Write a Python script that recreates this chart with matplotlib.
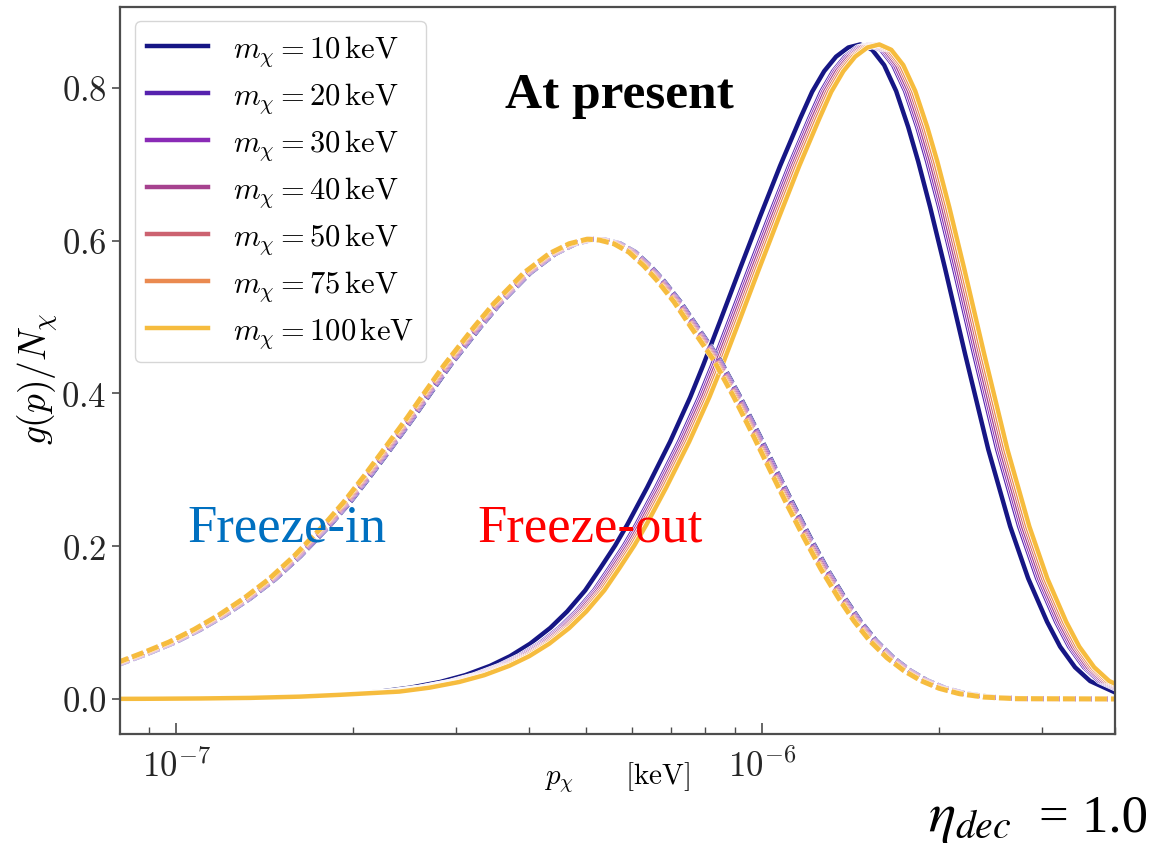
import numpy as np
import matplotlib as mpl
mpl.use('Agg')
import matplotlib.pyplot as plt
import matplotlib.patheffects as pe
from matplotlib.ticker import FormatStrFormatter

plt.rcParams.update({
    'font.family': 'serif',
    'font.serif': ['cmr10'],
    'mathtext.fontset': 'cm',
    'axes.formatter.use_mathtext': True,
    'axes.unicode_minus': False,
})

masses = [10, 20, 30, 40, 50, 75, 100]
colors = ['#161685', '#5622ae', '#8a2bb6', '#a6428f', '#cc6270', '#ea8a50', '#f6bc3e']

# momenta in units of 1e-7 keV
# solid curves (at present): shared g/N levels, p position for each mass
g_solid = [0.0001, 0.0002, 0.0003, 0.0007, 0.00145, 0.0031, 0.0055,
           0.0097, 0.0148, 0.0223, 0.0312, 0.0434, 0.0561, 0.0724, 0.0929, 0.1146, 0.1422,
           0.171, 0.201, 0.228, 0.277, 0.337, 0.395, 0.437, 0.495, 0.564, 0.632,
           0.698, 0.760, 0.795, 0.822, 0.841, 0.853, 0.857, 0.850, 0.830, 0.796,
           0.749, 0.704, 0.644, 0.563, 0.451, 0.327, 0.226, 0.158, 0.101, 0.0685,
           0.0415, 0.0235, 0.0085, 0.003]
p_tail = [0.70, 0.802, 0.903, 1.099, 1.338, 1.628, 1.905]
p_solid_10 = p_tail + [2.229, 2.508, 2.822, 3.113, 3.434, 3.715, 4.019, 4.347, 4.648, 4.989,
                       5.291, 5.613, 5.884, 6.365, 6.966, 7.537, 7.932, 8.480, 9.173, 9.922,
                       10.73, 11.61, 12.17, 12.76, 13.37, 14.03, 14.70, 15.41, 16.15, 16.93,
                       17.75, 18.46, 19.35, 20.53, 22.21, 24.31, 26.50, 28.44, 30.64, 32.25,
                       34.20, 36.28, 40.04, 44.16]
p_solid_20 = p_tail + [2.309, 2.598, 2.924, 3.225, 3.558, 3.849, 4.164, 4.503, 4.815, 5.169,
                       5.481, 5.815, 6.096, 6.594, 7.217, 7.808, 8.218, 8.785, 9.503, 10.28,
                       11.12, 12.03, 12.61, 13.22, 13.85, 14.54, 15.23, 15.96, 16.73, 17.54,
                       18.39, 19.12, 20.05, 21.27, 23.01, 25.18, 27.45, 29.46, 31.74, 33.41,
                       35.43, 37.59, 41.48, 45.75]
p_solid_30 = p_tail + [2.327, 2.618, 2.946, 3.250, 3.585, 3.878, 4.196, 4.538, 4.853, 5.208,
                       5.524, 5.860, 6.143, 6.645, 7.273, 7.869, 8.281, 8.853, 9.577, 10.36,
                       11.20, 12.12, 12.71, 13.32, 13.96, 14.65, 15.35, 16.09, 16.86, 17.67,
                       18.53, 19.27, 20.20, 21.43, 23.19, 25.38, 27.67, 29.69, 31.99, 33.67,
                       35.70, 37.88, 41.80, 46.10]
p_solid_40 = p_tail + [2.345, 2.638, 2.969, 3.275, 3.613, 3.908, 4.228, 4.573, 4.890, 5.248,
                       5.566, 5.905, 6.190, 6.696, 7.328, 7.929, 8.344, 8.921, 9.650, 10.44,
                       11.29, 12.21, 12.80, 13.42, 14.07, 14.76, 15.46, 16.21, 16.99, 17.81,
                       18.67, 19.42, 20.36, 21.60, 23.36, 25.57, 27.88, 29.92, 32.23, 33.93,
                       35.98, 38.17, 42.12, 46.46]
p_solid_50 = p_tail + [2.365, 2.661, 2.994, 3.303, 3.643, 3.942, 4.264, 4.612, 4.932, 5.293,
                       5.614, 5.955, 6.243, 6.753, 7.391, 7.997, 8.416, 8.997, 9.733, 10.53,
                       11.38, 12.32, 12.91, 13.54, 14.19, 14.89, 15.60, 16.35, 17.14, 17.96,
                       18.83, 19.59, 20.53, 21.78, 23.56, 25.79, 28.12, 30.17, 32.51, 34.22,
                       36.29, 38.49, 42.48, 46.85]
p_solid_75 = p_tail + [2.383, 2.681, 3.017, 3.328, 3.671, 3.971, 4.296, 4.647, 4.969, 5.333,
                       5.656, 6.000, 6.290, 6.804, 7.447, 8.057, 8.479, 9.065, 9.806, 10.61,
                       11.47, 12.41, 13.01, 13.64, 14.29, 15.00, 15.71, 16.47, 17.26, 18.10,
                       18.97, 19.73, 20.69, 21.95, 23.74, 25.99, 28.33, 30.40, 32.75, 34.48,
                       36.56, 38.78, 42.80, 47.21]
p_solid_100 = p_tail + [2.403, 2.704, 3.042, 3.356, 3.702, 4.005, 4.332, 4.686, 5.011, 5.378,
                        5.704, 6.051, 6.343, 6.861, 7.509, 8.125, 8.551, 9.141, 9.888, 10.70,
                        11.57, 12.52, 13.12, 13.76, 14.41, 15.12, 15.85, 16.61, 17.41, 18.25,
                        19.13, 19.90, 20.86, 22.13, 23.94, 26.21, 28.57, 30.66, 33.03, 34.77,
                        36.87, 39.11, 43.16, 47.60]

# dashed curves: shared g/N levels, p position for each mass
g_dash = [0.038,
          0.046, 0.061, 0.0745, 0.091, 0.110, 0.132, 0.157, 0.187, 0.228, 0.258,
          0.292, 0.327, 0.368, 0.400, 0.437, 0.487, 0.518, 0.558, 0.583, 0.596,
          0.602, 0.601, 0.596, 0.585, 0.567, 0.548, 0.52, 0.487, 0.443, 0.395,
          0.343, 0.300, 0.255, 0.211, 0.170, 0.131, 0.102, 0.076, 0.054, 0.037,
          0.024, 0.014, 0.007, 0.0025, 0.0005,
          0.0]
p_dash_10 = [0.750,
             0.802, 0.903, 0.996, 1.099, 1.212, 1.338, 1.475, 1.628, 1.832, 1.981,
             2.144, 2.319, 2.538, 2.713, 2.935, 3.303, 3.572, 4.019, 4.435, 4.797,
             5.147, 5.396, 5.724, 6.072, 6.440, 6.780, 7.246, 7.747, 8.480, 9.173,
             9.922, 10.56, 11.29, 12.08, 12.91, 13.86, 14.70, 15.65, 16.73, 17.89,
             19.12, 20.53, 22.21, 24.50, 27.56,
             42.0]
p_dash_20 = [0.750,
             0.799, 0.899, 0.992, 1.095, 1.207, 1.333, 1.469, 1.622, 1.825, 1.973,
             2.135, 2.310, 2.528, 2.702, 2.923, 3.290, 3.558, 4.003, 4.417, 4.778,
             5.126, 5.374, 5.701, 6.048, 6.414, 6.753, 7.217, 7.716, 8.446, 9.136,
             9.882, 10.52, 11.24, 12.03, 12.86, 13.80, 14.64, 15.59, 16.66, 17.82,
             19.04, 20.45, 22.12, 24.40, 27.45,
             42.0]
p_dash_30 = [0.750,
             0.796, 0.896, 0.988, 1.090, 1.202, 1.327, 1.463, 1.615, 1.817, 1.965,
             2.127, 2.300, 2.518, 2.691, 2.912, 3.277, 3.543, 3.987, 4.400, 4.759,
             5.106, 5.353, 5.678, 6.023, 6.389, 6.726, 7.188, 7.685, 8.412, 9.100,
             9.843, 10.48, 11.20, 11.98, 12.81, 13.75, 14.58, 15.52, 16.60, 17.75,
             18.97, 20.37, 22.03, 24.30, 27.34,
             42.0]
p_dash_40 = [0.750,
             0.792, 0.892, 0.984, 1.086, 1.198, 1.322, 1.457, 1.608, 1.810, 1.957,
             2.118, 2.291, 2.507, 2.680, 2.900, 3.263, 3.529, 3.971, 4.382, 4.740,
             5.085, 5.331, 5.655, 5.999, 6.363, 6.699, 7.159, 7.654, 8.378, 9.063,
             9.803, 10.43, 11.15, 11.94, 12.76, 13.69, 14.52, 15.46, 16.53, 17.68,
             18.89, 20.28, 21.94, 24.21, 27.23,
             42.0]
p_dash_50 = [0.750,
             0.789, 0.889, 0.980, 1.081, 1.193, 1.317, 1.451, 1.602, 1.803, 1.949,
             2.110, 2.282, 2.497, 2.670, 2.888, 3.250, 3.515, 3.955, 4.364, 4.720,
             5.065, 5.310, 5.632, 5.975, 6.337, 6.672, 7.130, 7.623, 8.344, 9.026,
             9.763, 10.39, 11.11, 11.89, 12.70, 13.64, 14.46, 15.40, 16.46, 17.60,
             18.81, 20.20, 21.85, 24.11, 27.12,
             42.0]
p_dash_75 = [0.750,
             0.786, 0.885, 0.976, 1.077, 1.188, 1.311, 1.446, 1.595, 1.795, 1.941,
             2.101, 2.273, 2.487, 2.659, 2.876, 3.237, 3.501, 3.939, 4.347, 4.701,
             5.044, 5.288, 5.610, 5.950, 6.311, 6.644, 7.101, 7.592, 8.310, 8.990,
             9.724, 10.35, 11.06, 11.84, 12.65, 13.58, 14.41, 15.34, 16.40, 17.53,
             18.74, 20.12, 21.77, 24.01, 27.01,
             42.0]
p_dash_100 = [0.750,
              0.783, 0.881, 0.972, 1.073, 1.183, 1.306, 1.440, 1.589, 1.788, 1.933,
              2.093, 2.263, 2.477, 2.648, 2.865, 3.224, 3.486, 3.922, 4.329, 4.682,
              5.023, 5.266, 5.587, 5.926, 6.285, 6.617, 7.072, 7.561, 8.277, 8.953,
              9.684, 10.31, 11.02, 11.79, 12.60, 13.53, 14.35, 15.27, 16.33, 17.46,
              18.66, 20.04, 21.68, 23.91, 26.90,
              42.0]

p_solid = [p_solid_10, p_solid_20, p_solid_30, p_solid_40, p_solid_50, p_solid_75, p_solid_100]
p_dash = [p_dash_10, p_dash_20, p_dash_30, p_dash_40, p_dash_50, p_dash_75, p_dash_100]

fig = plt.figure(figsize=(11.74, 8.45), dpi=100)
ax = fig.add_axes([0.1022, 0.1302, 0.8475, 0.8603])

lw = 3.2
for m, c, ps in zip(masses, colors, p_solid):
    ax.plot(np.array(ps) * 1e-7, g_solid, color=c, lw=lw,
            label=r'$m_\chi = %d\,\mathrm{keV}$' % m,
            path_effects=[pe.Stroke(linewidth=lw + 1.2, foreground='white'), pe.Normal()])

lw_d = 3.6
for m, c, ps in zip(masses, colors, p_dash):
    ax.plot(np.array(ps) * 1e-7, g_dash, color=c, lw=lw_d, ls=(0, (2.4, 0.8)),
            path_effects=[pe.Stroke(linewidth=lw_d + 0.6, foreground='white'), pe.Normal()])

ax.set_xscale('log')
ax.set_xlim(8.02e-8, 4.0e-6)
ax.set_ylim(-0.0458, 0.906)
ax.set_yticks([0.0, 0.2, 0.4, 0.6, 0.8])
ax.yaxis.set_major_formatter(FormatStrFormatter(r'$%.1f$'))

ax.set_xlabel(r'$p_\chi \qquad [\mathrm{keV}]$', fontsize=21)
ax.set_ylabel(r'$g(p)/N_\chi$', fontsize=27)
ax.yaxis.set_label_coords(-0.060, 0.49)
ax.xaxis.set_label_coords(0.5, -0.035)

for sp in ax.spines.values():
    sp.set_color('0.3')
    sp.set_linewidth(1.6)
ax.tick_params(axis='y', which='both', direction='out', length=6, width=1.2, labelsize=25, colors='0.3', labelcolor='0.15')
ax.tick_params(axis='x', which='major', direction='in', length=8, width=1.2, labelsize=25, colors='0.3', labelcolor='0.15', pad=10)
ax.tick_params(axis='x', which='minor', direction='in', length=5, width=1.0, colors='0.3')

ax.legend(loc='upper left', bbox_to_anchor=(0.015, 0.981), borderaxespad=0, fontsize=22,
          labelspacing=0.39, handlelength=2.0, framealpha=0.8, edgecolor='0.8')

fig.text(0.528, 0.886, 'At present', fontsize=37, fontweight='bold', family='Liberation Serif',
         ha='center', va='center', color='black')
fig.text(0.2445, 0.374, 'Freeze-in', fontsize=38, family='Liberation Serif',
         ha='center', va='center', color='#0070c0')
fig.text(0.5026, 0.374, 'Freeze-out', fontsize=38, family='Liberation Serif',
         ha='center', va='center', color='#ff0000')
fig.text(0.862, 0.016, r'$\eta_{dec}$', fontsize=41, math_fontfamily='stix',
         ha='right', va='baseline', color='black')
fig.text(0.978, 0.016, '= 1.0', fontsize=38, family='Liberation Serif',
         ha='right', va='baseline', color='black')

fig.savefig('out.png', dpi=100)
